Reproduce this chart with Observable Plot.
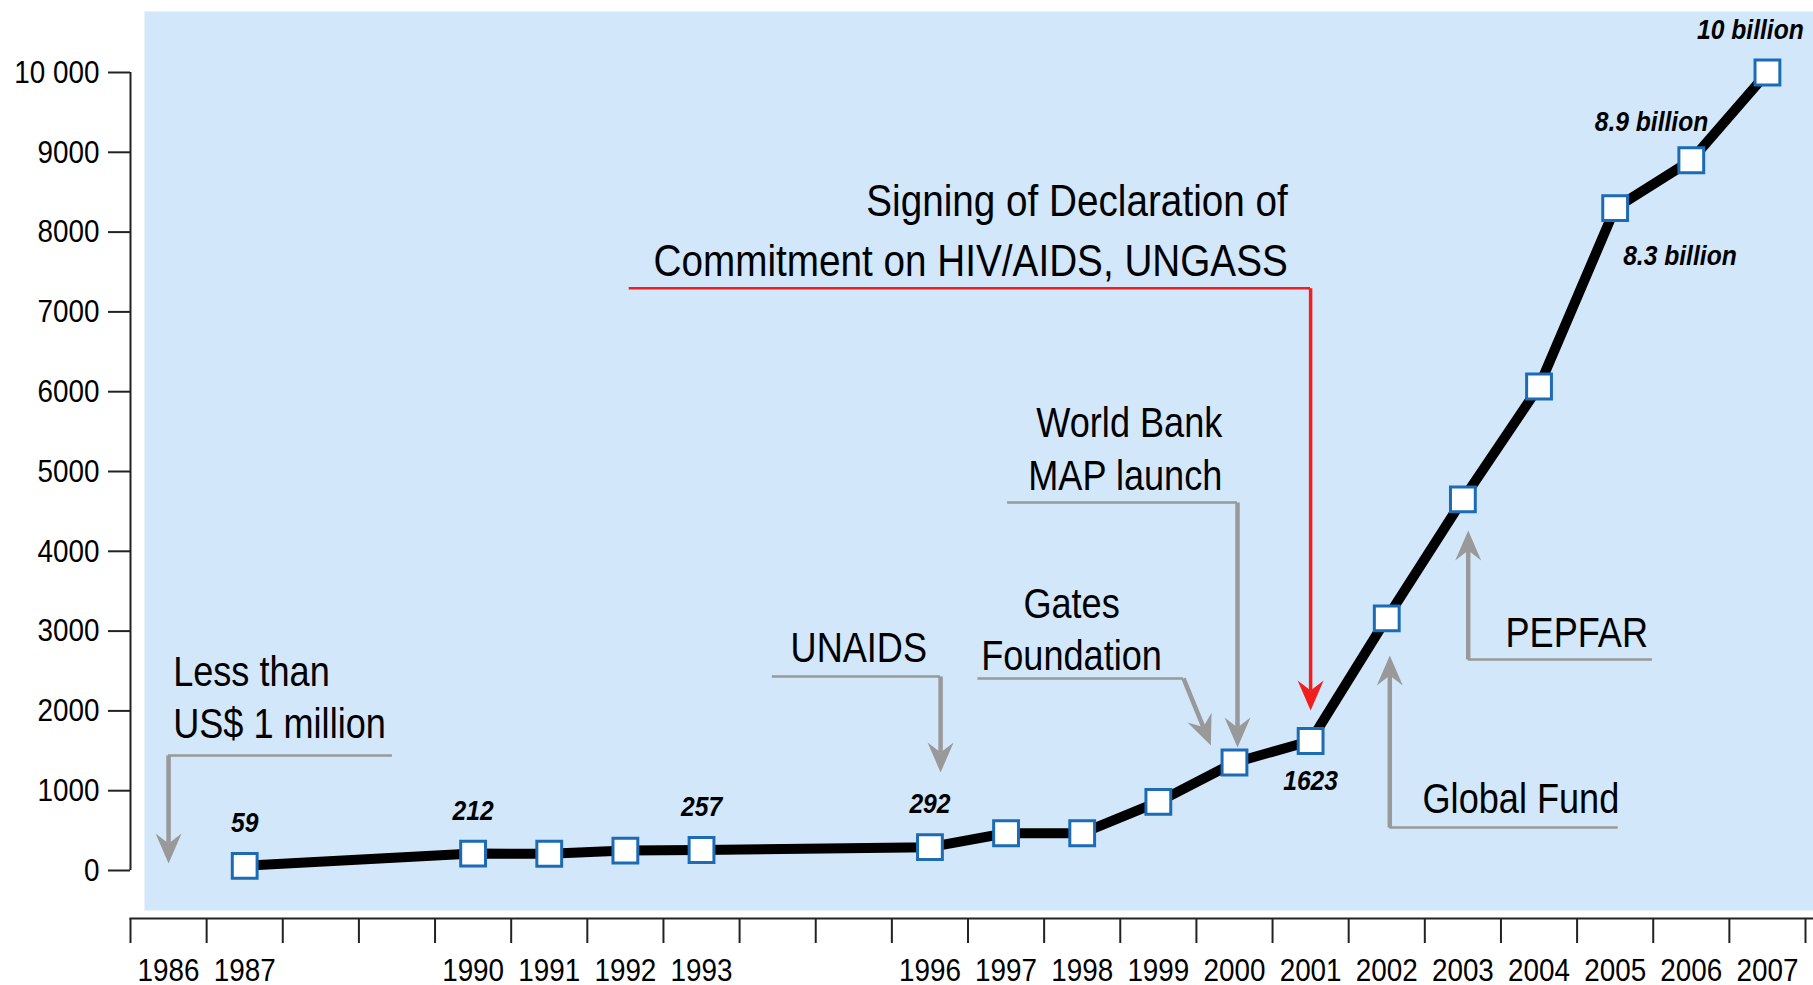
<!DOCTYPE html>
<html><head><meta charset="utf-8">
<script src="https://cdn.jsdelivr.net/npm/d3@7"></script>
<script src="https://cdn.jsdelivr.net/npm/@observablehq/plot@0.6"></script>
<style>body{margin:0;background:#fff}</style>
</head><body><div id="chart"></div>
<script>
// ---- data ----
const years = [1987, 1990, 1991, 1992, 1993, 1996, 1997, 1998, 1999, 2000, 2001, 2002, 2003, 2004, 2005, 2006, 2007];
const spending = [59, 212, 210, 250, 257, 292, 467, 467, 860, 1353, 1623, 3160, 4650, 6065, 8300, 8900, 10000];
const axisYears = [1986, 1987, 1990, 1991, 1992, 1993, 1996, 1997, 1998, 1999, 2000, 2001, 2002, 2003, 2004, 2005, 2006, 2007];
const yTicks = [0, 1000, 2000, 3000, 4000, 5000, 6000, 7000, 8000, 9000, 10000];
const labelYears = [1987, 1990, 1993, 1996, 2001, 2005, 2006, 2007];
const labelTexts = ["59", "212", "257", "292", "1623", "8.3 billion", "8.9 billion", "10 billion"];

// annotations (in data units: x = year, y = US$ million)
const annotations = [
  {text: "Less than\nUS$ 1 million", textX: 1986.06, textY: 1655, anchor: "start", leaderX: 1988.94, cornerX: 1986.0, cornerY: 1442, tipX: 1986.0, tipY: 88},
  {text: "UNAIDS", textX: 1994.17, textY: 2607, anchor: "start", leaderX: 1993.93, cornerX: 1996.14, cornerY: 2432, tipX: 1996.14, tipY: 1228},
  {text: "Gates\nFoundation", textX: 1997.86, textY: 2507, anchor: "middle", leaderX: 1996.63, cornerX: 1999.33, cornerY: 2407, tipX: 1999.69, tipY: 1567},
  {text: "World Bank\nMAP launch", textX: 1999.84, textY: 4764, anchor: "end", leaderX: 1997.02, cornerX: 2000.04, cornerY: 4613, tipX: 2000.04, tipY: 1542},
  {text: "Signing of Declaration of\nCommitment on HIV/AIDS, UNGASS", textX: 2000.70, textY: 7446, anchor: "end", leaderX: 1992.05, cornerX: 2001.0, cornerY: 7296, tipX: 2001.0, tipY: 2006, key: true},
  {text: "PEPFAR", textX: 2003.56, textY: 2796, anchor: "start", leaderX: 2005.49, cornerX: 2003.07, cornerY: 2645, tipX: 2003.07, tipY: 4262},
  {text: "Global Fund", textX: 2002.47, textY: 715, anchor: "start", leaderX: 2005.04, cornerX: 2002.04, cornerY: 539, tipX: 2002.04, tipY: 2695}
];

// ---- layout ----
const X_DOMAIN = [1985.5, 2007.5], X_RANGE = [130, 1805];
const Y_DOMAIN = [0, 10000], Y_RANGE = [870, 72];
const kx = (X_RANGE[1] - X_RANGE[0]) / (X_DOMAIN[1] - X_DOMAIN[0]);
const ky = (Y_RANGE[0] - Y_RANGE[1]) / (Y_DOMAIN[1] - Y_DOMAIN[0]);

const FONT = "'Liberation Sans', Arial, Helvetica, sans-serif";
const GRAY = "#999999", RED = "#f21d1d", BLUE = "#1b6bb5", BG = "#d3e7fb";

const series = years.map((year, i) => ({year, value: spending[i]}));
const labels = labelYears.map((year, i) => ({year, value: spending[years.indexOf(year)], text: labelTexts[i]}));

// arrow geometry
const HEAD_NOTCH = 20;
const arrows = annotations.map(a => {
  const dxp = (a.tipX - a.cornerX) * kx, dyp = -(a.tipY - a.cornerY) * ky;
  const len = Math.hypot(dxp, dyp), ux = dxp / len, uy = dyp / len;
  return {...a,
    notchX: a.tipX - HEAD_NOTCH * ux / kx,
    notchY: a.tipY + HEAD_NOTCH * uy / ky,
    rotate: Math.atan2(ux, -uy) * 180 / Math.PI};
});
const arrowHead = {
  draw(context) {
    context.moveTo(0, 0);
    context.lineTo(13, 30);
    context.lineTo(0, 20);
    context.lineTo(-13, 30);
    context.closePath();
  }
};

const valueFont = {fontFamily: FONT, fontWeight: "bold", fontStyle: "italic", fontSize: 28, fill: "black"};

const marks = [
  Plot.frame({fill: BG, stroke: "none"}),
  Plot.frame({anchor: "bottom", insetLeft: -14, insetBottom: -8, stroke: "#222", strokeWidth: 2}),
  Plot.ruleX([X_DOMAIN[0]], {y1: Y_DOMAIN[0], y2: Y_DOMAIN[1], stroke: "#222", strokeWidth: 2}),
  Plot.axisY(yTicks, {anchor: "left", tickSize: 22, tickPadding: 9, dx: -14, fontSize: 32, stroke: "#222", strokeWidth: 2,
    tickFormat: d => d >= 10000 ? d3.format(",")(d).replace(/,/g, " ") : String(d)}),
  Plot.axisX(d3.range(X_DOMAIN[0], X_DOMAIN[1] + 0.5, 1), {anchor: "bottom", tickSize: 25, dy: 8, stroke: "#222", strokeWidth: 2, tickFormat: () => ""}),
  Plot.axisX(axisYears, {anchor: "bottom", tickSize: 0, tickPadding: 48, fontSize: 32, tickFormat: d => String(d)}),
  // leaders
  Plot.ruleY(arrows, {y: "cornerY", x1: "leaderX", x2: "cornerX", stroke: d => d.key ? RED : GRAY, strokeWidth: 2.5}),
  // shafts
  Plot.link(arrows, {x1: "cornerX", y1: "cornerY", x2: "notchX", y2: "notchY", stroke: d => d.key ? RED : GRAY, strokeWidth: d => d.key ? 3.5 : 4.5}),
  // heads
  Plot.dot(arrows, {x: "tipX", y: "tipY", symbol: arrowHead, rotate: "rotate", fill: d => d.key ? RED : GRAY, stroke: "none", r: 10}),
  // annotation texts
  ...annotations.map(a => Plot.text([a], {x: "textX", y: "textY", text: "text", textAnchor: a.anchor, lineAnchor: "bottom",
    fontSize: a.key ? 45 : 42, lineHeight: a.key ? 1.33 : 1.26, fill: "black"})),
  // data
  Plot.line(series, {x: "year", y: "value", stroke: "black", strokeWidth: 10, strokeLinejoin: "round"}),
  Plot.dot(series, {x: "year", y: "value", symbol: "square", r: 14, fill: "white", stroke: BLUE, strokeWidth: 3}),
  Plot.text(labels, {filter: d => d.year <= 1996, x: "year", y: "value", text: "text", dy: -43, ...valueFont}),
  Plot.text(labels, {filter: d => d.year === 2001, x: "year", y: "value", text: "text", dy: 40, ...valueFont}),
  Plot.text(labels, {filter: d => d.year === 2005, x: "year", y: "value", text: "text", textAnchor: "start", dx: 8, dy: 48, ...valueFont}),
  Plot.text(labels, {filter: d => d.year === 2006, x: "year", y: "value", text: "text", textAnchor: "end", dx: 17, dy: -38, ...valueFont}),
  Plot.text(labels, {filter: d => d.year === 2007, x: "year", y: "value", text: "text", dx: -17, dy: -42, ...valueFont})
];

const chart = Plot.plot({
  width: 1813,
  height: 985,
  marginLeft: 144,
  marginRight: 0,
  marginTop: 11,
  marginBottom: 75,
  style: {fontFamily: FONT, fontSize: "32px", background: "white", color: "black", overflow: "visible"},
  x: {type: "linear", domain: X_DOMAIN, range: X_RANGE},
  y: {type: "linear", domain: Y_DOMAIN, range: Y_RANGE},
  marks
});

// condensed type, as in the original: horizontal squeeze about each text's anchor
chart.querySelectorAll("text").forEach(t => {
  const g = t.closest("g[font-size]");
  const fs = g ? +g.getAttribute("font-size") : 32;
  const bold = g && g.getAttribute("font-weight") === "bold";
  const s = bold ? 0.88 : fs >= 40 ? 0.86 : 0.87;
  const tr = t.getAttribute("transform") || "";
  t.setAttribute("transform", `${tr} scale(${s},1)`);
});

document.getElementById("chart").appendChild(chart);
</script>
</body></html>
